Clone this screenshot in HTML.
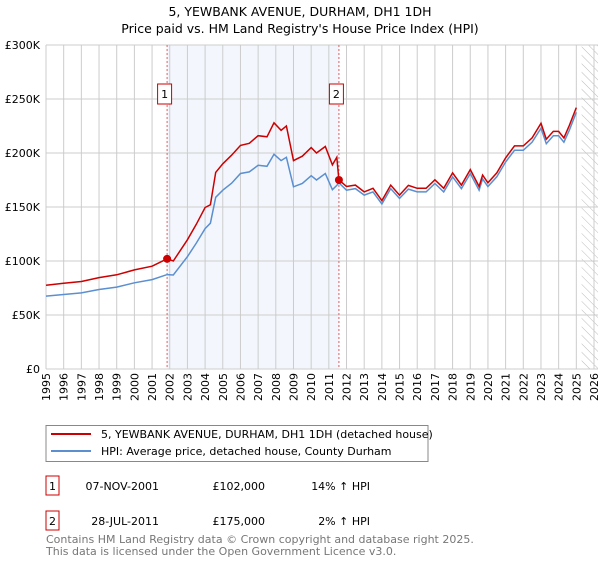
<!DOCTYPE html>
<html><head><meta charset="utf-8"><style>
body{margin:0;background:#fff;font-family:"DejaVu Sans","Liberation Sans",sans-serif}
svg text{font-family:"DejaVu Sans","Liberation Sans",sans-serif}
</style></head><body>
<svg id="c" width="600" height="560" xmlns="http://www.w3.org/2000/svg">
<text x="300" y="16" text-anchor="middle" font-size="12.5">5, YEWBANK AVENUE, DURHAM, DH1 1DH</text>
<text x="300" y="33" text-anchor="middle" font-size="12.5">Price paid vs. HM Land Registry's House Price Index (HPI)</text>
<g id="plot"></g>
<g>
<rect x="46" y="425.5" width="382" height="36" fill="#fff" stroke="#888"/>
<line x1="51" y1="434" x2="91" y2="434" stroke="#cc0000" stroke-width="2"/>
<text x="101" y="438" font-size="11">5, YEWBANK AVENUE, DURHAM, DH1 1DH (detached house)</text>
<line x1="51" y1="451" x2="91" y2="451" stroke="#5b8fd0" stroke-width="2"/>
<text x="101" y="455" font-size="11">HPI: Average price, detached house, County Durham</text>
</g>
<g font-size="11">
<rect x="46" y="476" width="13" height="19" fill="#fff" stroke="#cc0000"/><text x="52.5" y="490" text-anchor="middle">1</text>
<text x="159" y="490" text-anchor="end">07-NOV-2001</text><text x="265" y="490" text-anchor="end">£102,000</text><text x="370" y="490" text-anchor="end">14% ↑ HPI</text>
<rect x="46" y="511" width="13" height="19" fill="#fff" stroke="#cc0000"/><text x="52.5" y="525" text-anchor="middle">2</text>
<text x="159" y="525" text-anchor="end">28-JUL-2011</text><text x="265" y="525" text-anchor="end">£175,000</text><text x="370" y="525" text-anchor="end">2% ↑ HPI</text>
</g>
<text x="46" y="543" font-size="11" fill="#777">Contains HM Land Registry data © Crown copyright and database right 2025.</text>
<text x="46" y="555" font-size="11" fill="#777">This data is licensed under the Open Government Licence v3.0.</text>
</svg>
<script>
const hpiYears=[1995,1996,1997,1998,1999,2000,2001,2001.85,2002.2,2003,2003.5,2004,2004.3,2004.6,2005,2005.5,2006,2006.5,2007,2007.5,2007.9,2008.3,2008.6,2009,2009.5,2010,2010.3,2010.8,2011.2,2011.45,2011.57,2012,2012.5,2013,2013.5,2014,2014.5,2015,2015.5,2016,2016.5,2017,2017.5,2018,2018.5,2019,2019.5,2019.7,2020,2020.5,2021,2021.5,2022,2022.5,2023,2023.3,2023.7,2024,2024.3,2024.6,2025];
const hpiValues=[67.5,69,70.5,73.6,75.8,79.8,82.8,87.4,87,104,116.6,130,135,159,165.6,172,181,182.5,188.6,187.7,198.8,193,196,168.7,171.8,179,175,181,166,170,172.4,165.6,167,161,164,152.8,167,158,166.6,164,164,171.8,164,178,167,181,165.6,176,169,178,191.7,202.5,202.5,210,223,208.6,216,216,210,221,237.7];
const priceValues=[77.6,79.4,81,84.6,87.2,91.8,95.2,102,100,119.6,134,149.5,152,182,190,198,207,209,216,215,228,221,225,193,197,205,200,206,189,196,175,169,170.3,164,167.3,155.9,170.3,161,170,167.3,167.3,175.2,167.3,181.6,170.3,184.6,169,179.5,172.4,181.6,195.5,206.6,206.6,214,227.5,212.8,220,220,214,225.5,242];
const saleYears=[2001.85,2011.57];
const saleValues=[102,175];
const yTicks=[0,50,100,150,200,250,300];
const yTickLabels=["£0","£50K","£100K","£150K","£200K","£250K","£300K"];
const xTicks=[];for(let y=1995;y<=2026;y++)xTicks.push(y);
const L=46,R=594,T=45,B=369;
const xs=v=>L+(v-1995)/(2026-1995)*(R-L);
const ys=v=>B-v/300*(B-T);
const NS="http://www.w3.org/2000/svg";
const g=document.getElementById('plot');
function mk(t,a,p){const e=document.createElementNS(NS,t);for(const k in a)e.setAttribute(k,a[k]);(p||g).appendChild(e);return e;}
const defs=mk('defs',{});
const pat=mk('pattern',{id:'hatch',width:6,height:6,patternUnits:'userSpaceOnUse',patternTransform:'rotate(-45)'},defs);
mk('line',{x1:0,y1:0,x2:0,y2:6,stroke:'#bbb','stroke-width':1},pat);
let sh=mk('rect',{x:xs(saleYears[0]),y:T,width:xs(saleYears[1])-xs(saleYears[0]),height:B-T,fill:'#eef3fc',opacity:0.7});


let ht=mk('rect',{x:xs(2025.3),y:T,width:R-xs(2025.3)+4,height:B-T,fill:'url(#hatch)'});


xTicks.forEach(y=>{const x=xs(y);let l=mk('line',{x1:x,y1:T,x2:x,y2:B,stroke:'#ccc','stroke-width':1});


let t=mk('text',{x:0,y:0,'font-size':11,'text-anchor':'end',transform:`translate(${x+4},${B+4}) rotate(-90)`});t.textContent=y;

});
yTicks.forEach((v,i)=>{const y=ys(v);let l=mk('line',{x1:L,y1:y,x2:R+4,y2:y,stroke:'#ccc','stroke-width':1});


let t=mk('text',{x:L-6,y:y+4,'font-size':11,'text-anchor':'end'});t.textContent=yTickLabels[i];

});
let ax=mk('line',{x1:L,y1:T,x2:L,y2:B,stroke:'#ccc'});


saleYears.forEach((s,i)=>{const x=xs(s);let l=mk('line',{x1:x,y1:T,x2:x,y2:B,stroke:'#e06060','stroke-dasharray':'2,2','stroke-width':1});


const bx=x-10;let r=mk('rect',{x:bx+0.5,y:84,width:14,height:20,fill:'#fff',stroke:'#cc0000'});


let t=mk('text',{x:bx+7.5,y:98,'font-size':11,'text-anchor':'middle'});t.textContent=i+1;

});
const pathOf=(ys_,vs)=>ys_.map((y,i)=>(i?'L':'M')+xs(y).toFixed(1)+','+ys(vs[i]).toFixed(1)).join('');
let hp=mk('path',{d:pathOf(hpiYears,hpiValues),fill:'none',stroke:'#5b8fd0','stroke-width':1.5});


let pp=mk('path',{d:pathOf(hpiYears,priceValues),fill:'none',stroke:'#cc0000','stroke-width':1.5});


saleYears.forEach((s,i)=>{let c=mk('circle',{cx:xs(s),cy:ys(saleValues[i]),r:4,fill:'#cc0000'});

});
</script>
</body></html>
